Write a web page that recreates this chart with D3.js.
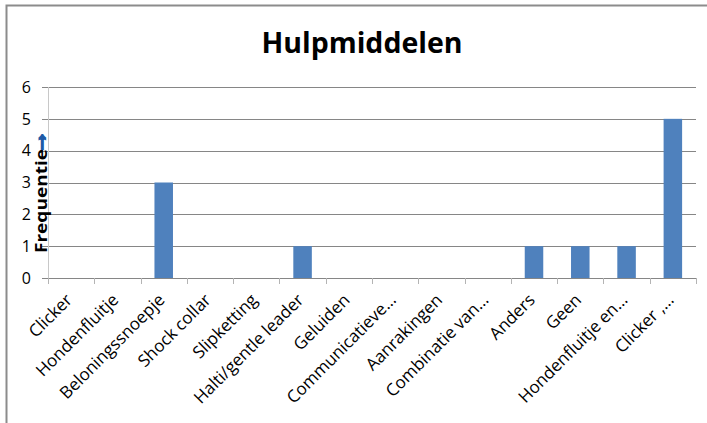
<!DOCTYPE html>
<html>
<head>
<meta charset="utf-8">
<script src="https://d3js.org/d3.v7.min.js"></script>
<style>
  body { margin: 0; background: #fff; }
  text { font-family: "Open Sans", "Liberation Sans", sans-serif; }
</style>
</head>
<body>
<div id="chart"></div>
<script>
// chart data
const categories = ["Clicker", "Hondenfluitje", "Beloningssnoepje", "Shock collar", "Slipketting",
  "Halti/gentle leader", "Geluiden", "Communicatieve…", "Aanrakingen", "Combinatie van…",
  "Anders", "Geen", "Hondenfluitje en…", "Clicker ,…"];
const frequencies = [0, 0, 3, 0, 0, 1, 0, 0, 0, 0, 1, 1, 1, 5];
const yTicks = [0, 1, 2, 3, 4, 5, 6];

const width = 707;
const height = 423;
const margin = {left: 48, right: 11, top: 87, bottom: 145};

const svg = d3.select("#chart")
  .append("svg")
  .attr("width", width)
  .attr("height", height);

// frame (only top and left edges show in the picture)
svg.append("path")
  .attr("d", "M6.5,423 V5.5 H707")
  .attr("fill", "none")
  .attr("stroke", "#8c8c8c")
  .attr("stroke-width", 2);

const x = d3.scaleBand()
  .domain(categories)
  .range([margin.left, width - margin.right])
  .paddingInner(0.6)
  .paddingOuter(0.3);

const y = d3.scaleLinear()
  .domain([0, 6])
  .range([height - margin.bottom, margin.top]);

// gridlines
svg.append("g")
  .selectAll("line")
  .data(yTicks)
  .enter().append("line")
    .attr("x1", margin.left - 6)
    .attr("x2", width - margin.right)
    .attr("y1", d => Math.round(y(d)) + 0.5)
    .attr("y2", d => Math.round(y(d)) + 0.5)
    .attr("stroke", "#868686")
    .attr("stroke-width", 1);

// y tick labels
svg.append("g")
  .selectAll("text")
  .data(yTicks)
  .enter().append("text")
    .attr("x", 31)
    .attr("y", d => y(d))
    .attr("dy", "0.36em")
    .attr("text-anchor", "end")
    .attr("font-size", 16)
    .attr("fill", "#000")
    .text(d => d);

// y axis line
svg.append("line")
  .attr("x1", margin.left + 0.5).attr("x2", margin.left + 0.5)
  .attr("y1", y(6)).attr("y2", y(0))
  .attr("stroke", "#c8c8c8");

// bars
svg.append("g")
  .selectAll("rect")
  .data(frequencies)
  .enter().append("rect")
    .attr("x", (d, i) => x(categories[i]))
    .attr("y", d => y(d))
    .attr("width", x.bandwidth())
    .attr("height", d => y(0) - y(d))
    .attr("fill", "#4f81bd");

// x axis line + category ticks
const step = x.step();
const x0 = margin.left;
svg.append("line")
  .attr("x1", x0).attr("x2", width - margin.right)
  .attr("y1", Math.round(y(0)) + 0.5).attr("y2", Math.round(y(0)) + 0.5)
  .attr("stroke", "#868686");

svg.append("g")
  .selectAll("line")
  .data(d3.range(categories.length + 1))
  .enter().append("line")
    .attr("x1", i => Math.round(x0 + i * step) + 0.5)
    .attr("x2", i => Math.round(x0 + i * step) + 0.5)
    .attr("y1", y(0))
    .attr("y2", y(0) + 6)
    .attr("stroke", "#b4b4b4");

// x labels, rotated
svg.append("g")
  .selectAll("text")
  .data(categories)
  .enter().append("text")
    .attr("transform", d => `translate(${x(d) + x.bandwidth() / 2 + 2},${y(0) + 23}) rotate(-45)`)
    .attr("text-anchor", "end")
    .attr("font-size", 17)
    .attr("fill", "#000")
    .text(d => d);

// y axis title
svg.append("text")
  .attr("transform", `translate(47,253) rotate(-90)`)
  .attr("font-size", 16)
  .attr("font-weight", "bold")
  .attr("textLength", 104)
  .attr("lengthAdjust", "spacingAndGlyphs")
  .attr("fill", "#000")
  .text("Frequentie");
svg.append("text")
  .attr("transform", `translate(46,154) rotate(-90)`)
  .attr("font-family", "DejaVu Sans")
  .attr("font-size", 24)
  .attr("font-weight", "bold")
  .attr("fill", "#1f5aa6")
  .attr("stroke", "#1f5aa6")
  .attr("stroke-width", 2)
  .text("→");

// title
svg.append("text")
  .attr("x", 362)
  .attr("y", 53)
  .attr("text-anchor", "middle")
  .attr("font-size", 28.5)
  .attr("font-weight", "bold")
  .attr("fill", "#000")
  .text("Hulpmiddelen");
</script>
</body>
</html>
